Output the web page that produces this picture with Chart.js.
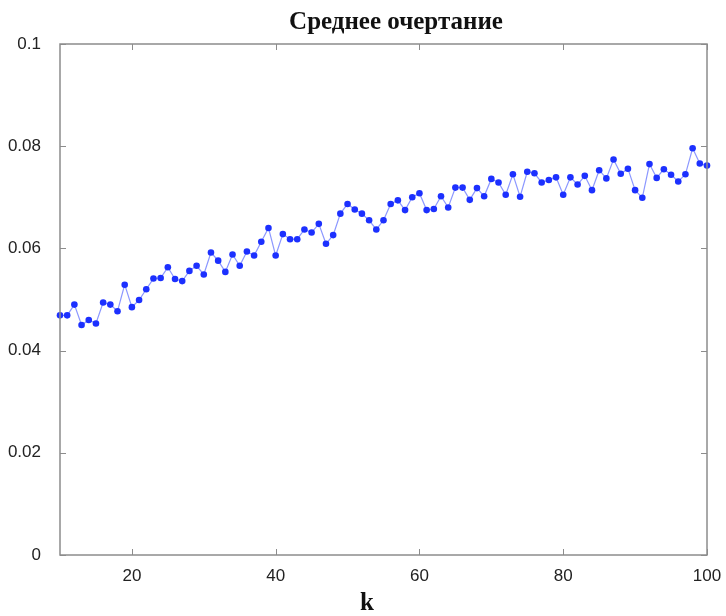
<!DOCTYPE html>
<html>
<head>
<meta charset="utf-8">
<script src="https://cdn.jsdelivr.net/npm/chart.js@4.4.1/dist/chart.umd.min.js"></script>
<style>
    html, body { margin: 0; padding: 0; background: #fff; }
    #wrap { width: 726px; height: 616px; }
</style>
</head>
<body>
<div id="wrap"><canvas id="chart" width="726" height="616"></canvas></div>
<script>
// number of clusters k
const kValues = [
    10, 11, 12, 13, 14, 15, 16, 17, 18, 19,
    20, 21, 22, 23, 24, 25, 26, 27, 28, 29,
    30, 31, 32, 33, 34, 35, 36, 37, 38, 39,
    40, 41, 42, 43, 44, 45, 46, 47, 48, 49,
    50, 51, 52, 53, 54, 55, 56, 57, 58, 59,
    60, 61, 62, 63, 64, 65, 66, 67, 68, 69,
    70, 71, 72, 73, 74, 75, 76, 77, 78, 79,
    80, 81, 82, 83, 84, 85, 86, 87, 88, 89,
    90, 91, 92, 93, 94, 95, 96, 97, 98, 99,
    100
];

// mean silhouette
const meanSilhouette = [
    0.0469, 0.0469, 0.0490, 0.0450, 0.0460, 0.0453, 0.0494, 0.0490, 0.0477, 0.0529,
    0.0485, 0.0499, 0.0520, 0.0541, 0.0542, 0.0563, 0.0540, 0.0536, 0.0556, 0.0566,
    0.0549, 0.0592, 0.0576, 0.0554, 0.0588, 0.0566, 0.0594, 0.0586, 0.0613, 0.0640,
    0.0586, 0.0628, 0.0618, 0.0618, 0.0637, 0.0631, 0.0648, 0.0609, 0.0626, 0.0668,
    0.0687, 0.0676, 0.0668, 0.0655, 0.0637, 0.0655, 0.0687, 0.0694, 0.0675, 0.0700,
    0.0708, 0.0675, 0.0677, 0.0702, 0.0680, 0.0719, 0.0719, 0.0695, 0.0718, 0.0702,
    0.0736, 0.0729, 0.0705, 0.0745, 0.0701, 0.0750, 0.0747, 0.0729, 0.0734, 0.0739,
    0.0705, 0.0739, 0.0725, 0.0742, 0.0714, 0.0753, 0.0737, 0.0774, 0.0746, 0.0756,
    0.0714, 0.0699, 0.0765, 0.0738, 0.0755, 0.0744, 0.0731, 0.0745, 0.0796, 0.0766,
    0.0762
];

const xTicks = [20, 40, 60, 80, 100];
const yTicks = [0, 0.02, 0.04, 0.06, 0.08, 0.1];
const yTickLabels = ['0', '0.02', '0.04', '0.06', '0.08', '0.1'];

const titleText = 'Среднее очертание';
const xAxisText = 'k';

/**
 * Matlab-like box with inward ticks, plus title and axis label
 */
const frame = {
    id: 'frame',
    afterDraw(chart) {
        const { ctx, chartArea: a, scales } = chart;
        const len = 6;
        ctx.save();
        ctx.strokeStyle = '#8c8c8c';
        ctx.lineWidth = 1.5;
        ctx.strokeRect(a.left, a.top, a.right - a.left, a.bottom - a.top);

        ctx.lineWidth = 1;
        ctx.beginPath();
        xTicks.forEach(v => {
            const px = Math.round(scales.x.getPixelForValue(v)) + 0.5;
            ctx.moveTo(px, a.bottom); ctx.lineTo(px, a.bottom - len);
            ctx.moveTo(px, a.top); ctx.lineTo(px, a.top + len);
        });
        yTicks.forEach(v => {
            const py = Math.round(scales.y.getPixelForValue(v)) + 0.5;
            ctx.moveTo(a.left, py); ctx.lineTo(a.left + len, py);
            ctx.moveTo(a.right, py); ctx.lineTo(a.right - len, py);
        });
        ctx.stroke();

        ctx.fillStyle = '#111';
        ctx.textAlign = 'center';
        ctx.textBaseline = 'middle';
        ctx.font = 'bold 25px "Liberation Serif", "DejaVu Serif", serif';
        ctx.fillText(titleText, 396, 23);
        ctx.font = 'bold 25px "Liberation Serif", "DejaVu Serif", serif';
        ctx.fillText(xAxisText, 367, 604);
        ctx.restore();
    }
};

new Chart(document.getElementById('chart'), {
    type: 'line',
    data: {
        datasets: [{
            data: kValues.map((k, i) => ({ x: k, y: meanSilhouette[i] })),
            borderColor: 'rgba(110, 125, 255, 0.8)',
            borderWidth: 1.2,
            pointBackgroundColor: '#1c30ff',
            pointBorderWidth: 0,
            pointRadius: 3.3,
            tension: 0,
            fill: false,
            clip: false
        }]
    },
    options: {
        responsive: false,
        animation: false,
        events: [],
        layout: { padding: { top: 44, right: 19, bottom: 0, left: 0 } },
        plugins: {
            legend: { display: false },
            title: { display: false },
            tooltip: { enabled: false }
        },
        scales: {
            x: {
                type: 'linear',
                min: 10,
                max: 100,
                grid: { display: false, drawTicks: false },
                border: { display: false },
                afterBuildTicks: (scale) => { scale.ticks = xTicks.map(v => ({ value: v })); },
                afterFit: (scale) => {
                    scale.height = 61;
                    scale.paddingLeft = 0;
                    scale.paddingRight = 0;
                },
                ticks: {
                    padding: 11,
                    color: '#222',
                    font: { family: '"Liberation Sans", Arial, sans-serif', size: 17 },
                    callback: (v) => String(v)
                }
            },
            y: {
                min: 0,
                max: 0.1,
                grid: { display: false, drawTicks: false },
                border: { display: false },
                afterBuildTicks: (scale) => { scale.ticks = yTicks.map(v => ({ value: v })); },
                afterFit: (scale) => {
                    scale.width = 60;
                    scale.paddingTop = 0;
                    scale.paddingBottom = 0;
                },
                ticks: {
                    padding: 19,
                    color: '#222',
                    font: { family: '"Liberation Sans", Arial, sans-serif', size: 17 },
                    callback: (v) => yTickLabels[yTicks.indexOf(v)]
                }
            }
        }
    },
    plugins: [frame]
});
</script>
</body>
</html>
